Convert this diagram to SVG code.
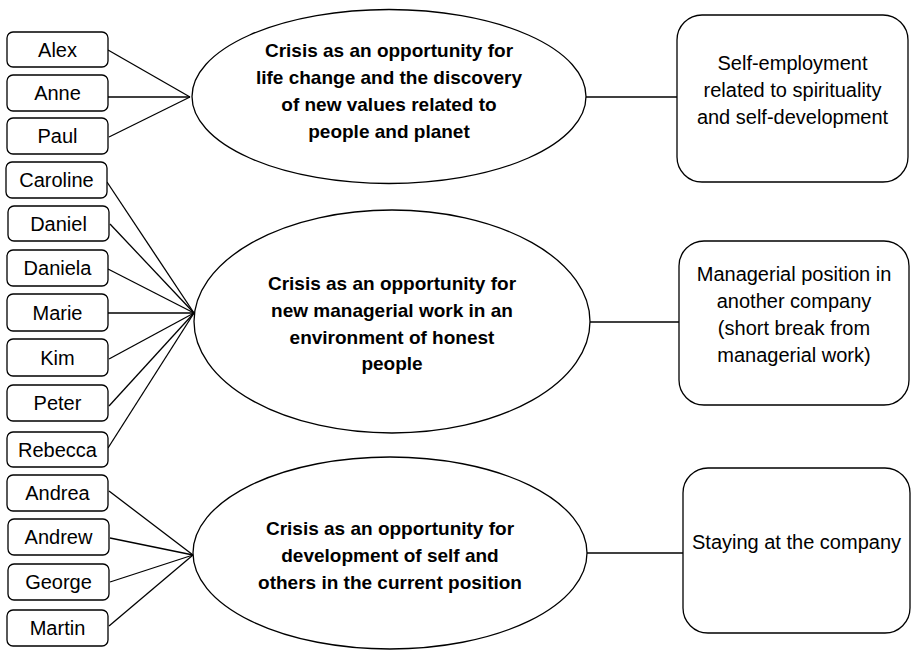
<svg xmlns="http://www.w3.org/2000/svg" width="911" height="650" viewBox="0 0 911 650">
  <style>
    .name rect { fill: #fff; stroke: #000; stroke-width: 1.3; }
    .name text { font-family: "Liberation Sans", Arial, sans-serif; font-size: 20px; fill: #000; text-anchor: middle; }
    .theme ellipse { fill: #fff; stroke: #000; stroke-width: 1.3; }
    .theme text { font-family: "Liberation Sans", Arial, sans-serif; font-size: 19px; font-weight: bold; fill: #000; text-anchor: middle; }
    .outcome rect { fill: #fff; stroke: #000; stroke-width: 1.3; }
    .outcome text { font-family: "Liberation Sans", Arial, sans-serif; font-size: 20px; fill: #000; text-anchor: middle; }
    #connectors line { stroke: #000; stroke-width: 1.3; }
  </style>
  <rect width="911" height="650" fill="#fff"/>

  <!-- links: names to themes, themes to outcomes -->
  <g id="connectors">
    <line x1="108" y1="50" x2="190" y2="97"/>
    <line x1="108" y1="97" x2="190" y2="97"/>
    <line x1="109" y1="137" x2="190" y2="97"/>

    <line x1="107" y1="182" x2="194" y2="313"/>
    <line x1="110" y1="224" x2="194" y2="313"/>
    <line x1="108" y1="269" x2="194" y2="313"/>
    <line x1="108" y1="313" x2="194" y2="313"/>
    <line x1="109" y1="359" x2="194" y2="313"/>
    <line x1="109" y1="406" x2="194" y2="313"/>
    <line x1="108" y1="448" x2="194" y2="313"/>

    <line x1="109" y1="491" x2="193" y2="555"/>
    <line x1="110" y1="538" x2="193" y2="555"/>
    <line x1="110" y1="582" x2="193" y2="555"/>
    <line x1="109" y1="626" x2="193" y2="555"/>

    <line x1="586" y1="97" x2="677" y2="97"/>
    <line x1="590" y1="322" x2="679" y2="322"/>
    <line x1="587" y1="553" x2="683" y2="553"/>
  </g>

  <!-- interviewees -->
  <g id="n-alex" class="name"><rect x="7" y="32" width="101" height="35" rx="6"/><text x="57.5" y="56.5">Alex</text></g>
  <g id="n-anne" class="name"><rect x="7" y="75" width="101" height="36" rx="6"/><text x="57.5" y="100">Anne</text></g>
  <g id="n-paul" class="name"><rect x="7" y="118" width="101" height="36" rx="6"/><text x="57.5" y="143">Paul</text></g>
  <g id="n-caroline" class="name"><rect x="6" y="162" width="101" height="36" rx="6"/><text x="56.5" y="187">Caroline</text></g>
  <g id="n-daniel" class="name"><rect x="8" y="206" width="101" height="35" rx="6"/><text x="58.5" y="230.5">Daniel</text></g>
  <g id="n-daniela" class="name"><rect x="7" y="250" width="101" height="36" rx="6"/><text x="57.5" y="275">Daniela</text></g>
  <g id="n-marie" class="name"><rect x="7" y="294" width="101" height="37" rx="6"/><text x="57.5" y="319.5">Marie</text></g>
  <g id="n-kim" class="name"><rect x="7" y="339" width="101" height="37" rx="6"/><text x="57.5" y="364.5">Kim</text></g>
  <g id="n-peter" class="name"><rect x="7" y="385" width="101" height="36" rx="6"/><text x="57.5" y="410">Peter</text></g>
  <g id="n-rebecca" class="name"><rect x="7" y="432" width="101" height="35" rx="6"/><text x="57.5" y="456.5">Rebecca</text></g>
  <g id="n-andrea" class="name"><rect x="7" y="475" width="101" height="36" rx="6"/><text x="57.5" y="500">Andrea</text></g>
  <g id="n-andrew" class="name"><rect x="8" y="519" width="101" height="36" rx="6"/><text x="58.5" y="544">Andrew</text></g>
  <g id="n-george" class="name"><rect x="8" y="564" width="101" height="36" rx="6"/><text x="58.5" y="589">George</text></g>
  <g id="n-martin" class="name"><rect x="7" y="610" width="101" height="36" rx="6"/><text x="57.5" y="635">Martin</text></g>

  <!-- themes -->
  <g id="theme-life-change" class="theme">
    <ellipse cx="389" cy="96.5" rx="197" ry="87"/>
    <text x="389" y="57">Crisis as an opportunity for</text>
    <text x="389" y="84">life change and the discovery</text>
    <text x="389" y="111">of new values related to</text>
    <text x="389" y="138">people and planet</text>
  </g>
  <g id="theme-managerial" class="theme">
    <ellipse cx="392" cy="321.5" rx="198" ry="111.5"/>
    <text x="392" y="290">Crisis as an opportunity for</text>
    <text x="392" y="317">new managerial work in an</text>
    <text x="392" y="344">environment of honest</text>
    <text x="392" y="370">people</text>
  </g>
  <g id="theme-development" class="theme">
    <ellipse cx="390" cy="553" rx="197" ry="96"/>
    <text x="390" y="535">Crisis as an opportunity for</text>
    <text x="390" y="562">development of self and</text>
    <text x="390" y="589">others in the current position</text>
  </g>

  <!-- outcomes -->
  <g id="out-self-employment" class="outcome">
    <rect x="677" y="15" width="231" height="167" rx="25"/>
    <text x="792.5" y="70">Self-employment</text>
    <text x="792.5" y="97">related to spirituality</text>
    <text x="792.5" y="124">and self-development</text>
  </g>
  <g id="out-managerial-position" class="outcome">
    <rect x="679" y="241" width="230" height="164" rx="25"/>
    <text x="794" y="281">Managerial position in</text>
    <text x="794" y="308">another company</text>
    <text x="794" y="335">(short break from</text>
    <text x="794" y="362">managerial work)</text>
  </g>
  <g id="out-staying" class="outcome">
    <rect x="683" y="468" width="227" height="165" rx="25"/>
    <text x="796.5" y="549">Staying at the company</text>
  </g>
</svg>
